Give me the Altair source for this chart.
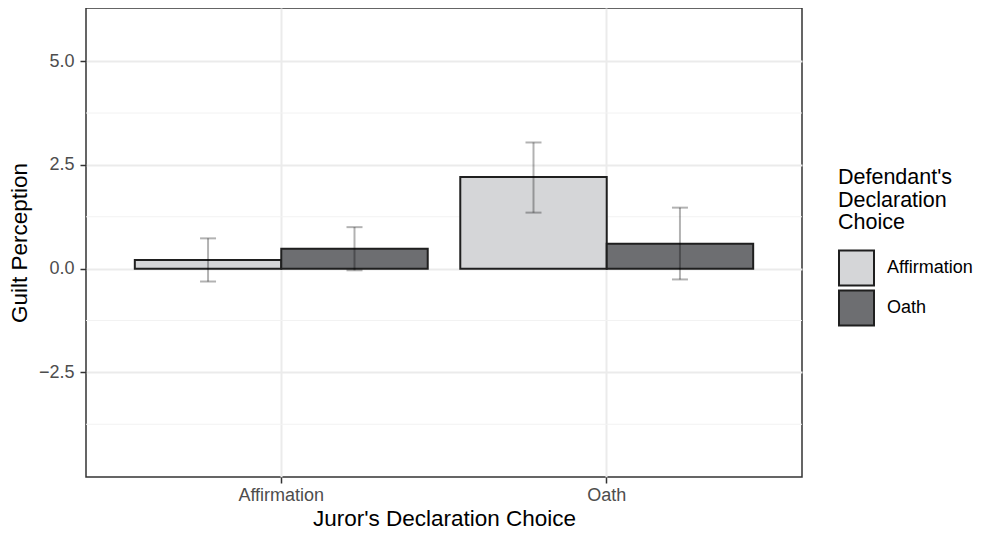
import altair as alt
import pandas as pd

juror = ["Affirmation", "Affirmation", "Oath", "Oath"]
defendant = ["Affirmation", "Oath", "Affirmation", "Oath"]
means = [0.21, 0.48, 2.21, 0.60]
lower = [-0.31, -0.04, 1.35, -0.26]
upper = [0.73, 1.00, 3.04, 1.47]
minor_breaks = [-3.75, -1.25, 1.25, 3.75]
major_breaks = [-2.5, 0.0, 2.5, 5.0]

df = pd.DataFrame({"juror": juror, "defendant": defendant,
                   "mean": means, "lo": lower, "hi": upper})
minor_df = pd.DataFrame({"v": minor_breaks})

FONT = "Liberation Sans"
ydom = [-5.02, 6.28]
TICK = 18
TITLE = 22.5

xscale = alt.Scale(paddingInner=0.1, paddingOuter=0.15)
yscale = alt.Scale(domain=ydom, nice=False, zero=False)

xenc = alt.X("juror:N", scale=xscale, title="Juror's Declaration Choice",
             axis=alt.Axis(labelAngle=0, bandPosition=0.5, grid=True,
                           gridColor="#ebebeb", gridWidth=2,
                           tickColor="#333333", tickWidth=1.5, tickSize=6,
                           labelFontSize=TICK, labelColor="#4d4d4d", labelPadding=3,
                           titleFontSize=TITLE, titleColor="#000000", titleFontWeight="normal",
                           titlePadding=3, domain=False))
yenc_axis = alt.Axis(values=major_breaks, format=".1f", grid=True,
                     gridColor="#ebebeb", gridWidth=2,
                     tickColor="#333333", tickWidth=1.5, tickSize=6,
                     labelFontSize=TICK, labelColor="#4d4d4d", labelPadding=6,
                     titleFontSize=TITLE, titleColor="#000000", titleFontWeight="normal",
                     titlePadding=7, domain=False)

minor = alt.Chart(minor_df).mark_rule(color="#f2f2f2", strokeWidth=1).encode(
    y=alt.Y("v:Q", scale=yscale, axis=yenc_axis, title="Guilt Perception")
)

bars = alt.Chart(df).mark_bar(stroke="#1f1f1f", strokeWidth=2).encode(
    x=xenc,
    xOffset=alt.XOffset("defendant:N"),
    y=alt.Y("mean:Q", scale=yscale, title="Guilt Perception"),
    fill=alt.Fill("defendant:N",
                  scale=alt.Scale(domain=["Affirmation", "Oath"],
                                  range=["#d5d6d8", "#6d6e71"]),
                  legend=alt.Legend(title=["Defendant's", "Declaration", "Choice"],
                                    orient="none", legendX=752, legendY=159,
                                    titleFontSize=21.5, titleFontWeight="normal",
                                    titleColor="#000000", titleLineHeight=22.5,
                                    titlePadding=16,
                                    labelFontSize=TICK, labelColor="#000000",
                                    symbolType="square", symbolSize=1225,
                                    symbolStrokeColor="#1f1f1f", symbolStrokeWidth=2,
                                    symbolOpacity=1, rowPadding=-11, labelOffset=12)),
)

err = alt.Chart(df).mark_rule(color="#000000", opacity=0.3, strokeWidth=2).encode(
    x=alt.X("juror:N", scale=xscale),
    xOffset=alt.XOffset("defendant:N"),
    y=alt.Y("lo:Q", scale=yscale),
    y2="hi:Q",
)
caps_lo = alt.Chart(df).mark_tick(color="#000000", opacity=0.3, thickness=2, size=16).encode(
    x=alt.X("juror:N", scale=xscale),
    xOffset=alt.XOffset("defendant:N"),
    y=alt.Y("lo:Q", scale=yscale),
)
caps_hi = alt.Chart(df).mark_tick(color="#000000", opacity=0.3, thickness=2, size=16).encode(
    x=alt.X("juror:N", scale=xscale),
    xOffset=alt.XOffset("defendant:N"),
    y=alt.Y("hi:Q", scale=yscale),
)

chart = alt.layer(minor, bars, err, caps_lo, caps_hi).properties(
    width=716, height=469,
    autosize=alt.AutoSizeParams(type="none"),
    padding={"left": 78, "top": 0, "right": 175, "bottom": 56},
).configure(font=FONT).configure_view(
    stroke="#333333", strokeWidth=1.5
)

chart.save("out.html", embed_options={"renderer": "svg", "actions": False})
